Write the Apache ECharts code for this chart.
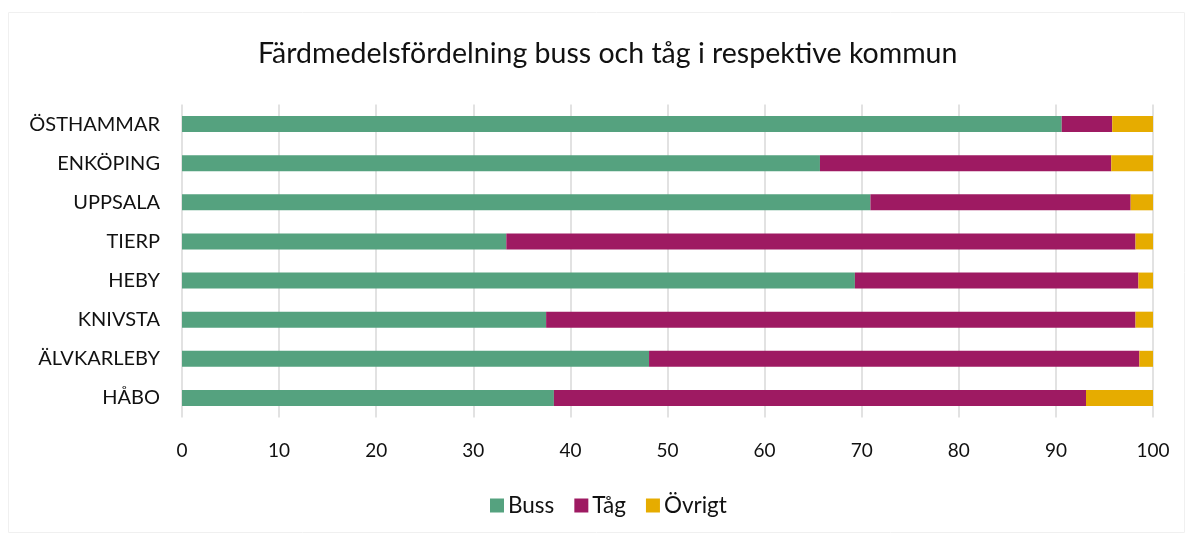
<!DOCTYPE html>
<html><head><meta charset="utf-8">
<script src="https://cdn.jsdelivr.net/npm/echarts@6/dist/echarts.min.js"></script>
<style>html,body{margin:0;padding:0;background:#fff}#c{width:1193px;height:538px}</style>
</head><body><div id="c"></div>
<script>
const categories = ['ÖSTHAMMAR','ENKÖPING','UPPSALA','TIERP','HEBY','KNIVSTA','ÄLVKARLEBY','HÅBO'];
const buss   = [90.6, 65.7, 70.9, 33.4, 69.3, 37.5, 48.1, 38.3];
const tag    = [5.2, 30.0, 26.8, 64.8, 29.2, 60.7, 50.5, 54.8];
const ovrigt = [4.2, 4.3, 2.3, 1.8, 1.5, 1.8, 1.4, 6.9];
const xTicks = [0,10,20,30,40,50,60,70,80,90,100];

const FONT = 'Lato';
const chart = echarts.init(document.getElementById('c'));
const mk = (name, data, color) => ({
  name, type: 'bar', stack: 'total', data, barWidth: 16,
  itemStyle: { color }, emphasis: { disabled: true }
});
chart.setOption({
  animation: false,
  textStyle: { fontFamily: FONT },
  graphic: [{ type: 'rect', shape: { x: 8.5, y: 12.5, width: 1176, height: 520 },
    style: { fill: 'none', stroke: '#f0f0f0', lineWidth: 1 } }],
  title: { text: 'Färdmedelsfördelning buss och tåg i respektive kommun', left: 253, top: 34,
    textStyle: { fontFamily: FONT, fontSize: 28.5, fontWeight: 'normal', color: '#111' } },
  legend: { bottom: 16, left: 485, itemWidth: 14, itemHeight: 14, itemGap: 20, icon: 'rect',
    textStyle: { fontFamily: FONT, fontSize: 22.5, color: '#111', padding: [0,0,0,-1] },
    data: ['Buss','Tåg','Övrigt'] },
  grid: { left: 182, right: 40, top: 104.5, bottom: 120.5, containLabel: false },
  xAxis: { type: 'value', min: 0, max: 100, interval: 10,
    axisLine: { show: false }, axisTick: { show: false },
    splitLine: { lineStyle: { color: '#d9d9d9', width: 1.5 } },
    axisLabel: { fontFamily: FONT, fontSize: 19, color: '#111', margin: 24,
      formatter: v => xTicks.includes(v) ? String(v) : '' } },
  yAxis: { type: 'category', data: categories, inverse: true,
    axisLine: { show: false }, axisTick: { show: false },
    axisLabel: { fontFamily: FONT, fontSize: 20, color: '#111', margin: 22 } },
  series: [mk('Buss', buss, '#55a27f'), mk('Tåg', tag, '#9e1a62'), mk('Övrigt', ovrigt, '#e6ac00')]
});
</script></body></html>
